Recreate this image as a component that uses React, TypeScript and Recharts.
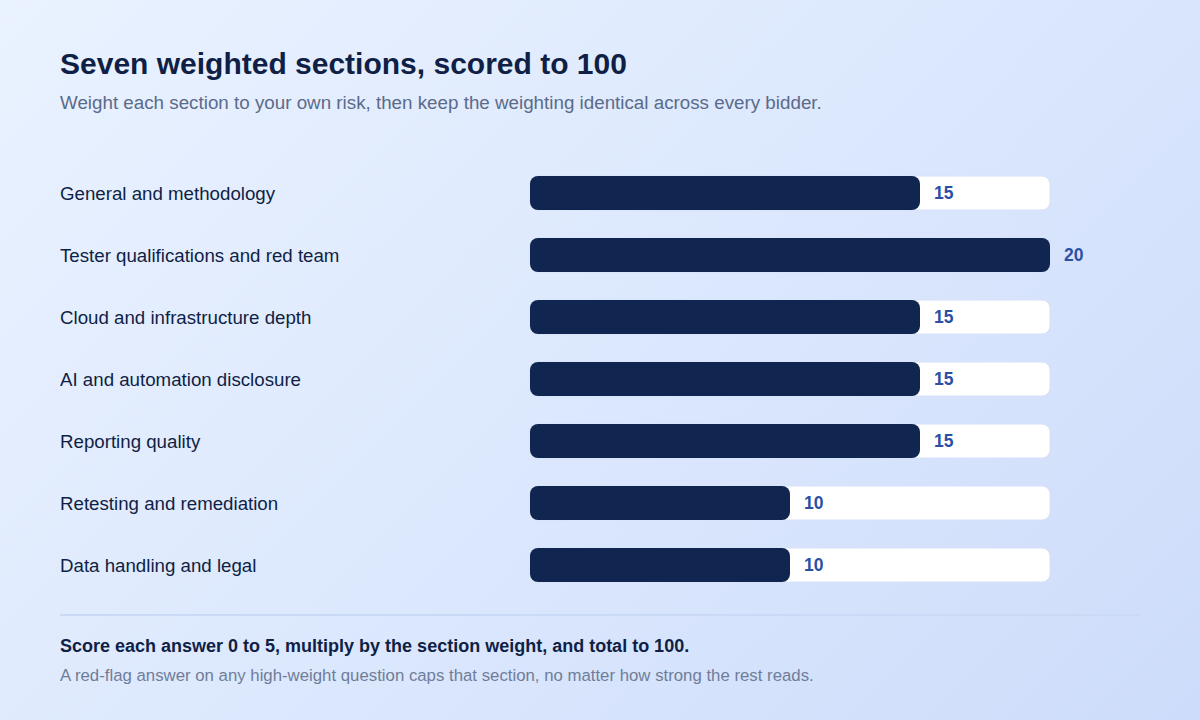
import { BarChart, Bar, XAxis, YAxis, LabelList } from 'recharts';

const sections = [
  'General and methodology',
  'Tester qualifications and red team',
  'Cloud and infrastructure depth',
  'AI and automation disclosure',
  'Reporting quality',
  'Retesting and remediation',
  'Data handling and legal',
];
const weights = [15, 20, 15, 15, 15, 10, 10];
const maxWeight = 20;

const data = sections.map((name, i) => ({ name, weight: weights[i] }));

const font = '"Liberation Sans", Arial, Helvetica, sans-serif';

const CategoryTick = (props: any) => {
  const { y, payload } = props;
  return (
    <text x={60} y={y} dy={6.5} textAnchor="start" fill="#0f1f45" fontSize={18.7} fontFamily={font}>
      {payload.value}
    </text>
  );
};

const ValueLabel = (props: any) => {
  const { x, y, width, height, value } = props;
  return (
    <text
      x={x + width + 14}
      y={y + height / 2}
      dy={6}
      fill="#2b50a3"
      fontSize={17.5}
      fontWeight="bold"
      fontFamily={font}
    >
      {value}
    </text>
  );
};

const App = () => {
  return (
    <div
      style={{
        position: 'absolute',
        left: 0,
        top: 0,
        width: 1200,
        height: 720,
        background: 'linear-gradient(135deg, #eaf2ff 0%, #dce8fd 50%, #cddcfa 100%)',
        fontFamily: font,
        overflow: 'hidden',
        lineHeight: 1.15,
      }}
    >
      <div style={{ position: 'absolute', left: 60, top: 47, fontSize: 30, fontWeight: 'bold', color: '#0f1f45' }}>
        Seven weighted sections, scored to 100
      </div>
      <div style={{ position: 'absolute', left: 60, top: 92, fontSize: 18.8, color: '#5b6b8a' }}>
        Weight each section to your own risk, then keep the weighting identical across every bidder.
      </div>

      <div style={{ position: 'absolute', left: 0, top: 162 }}>
        <BarChart
          width={1200}
          height={434}
          data={data}
          layout="vertical"
          margin={{ top: 0, right: 150, bottom: 0, left: 60 }}
          barSize={34}
        >
          <XAxis type="number" domain={[0, maxWeight]} hide />
          <YAxis
            type="category"
            dataKey="name"
            width={470}
            axisLine={false}
            tickLine={false}
            tick={<CategoryTick />}
          />
          <Bar
            dataKey="weight"
            fill="#10254f"
            radius={8}
            background={{ fill: '#ffffff', radius: 8, stroke: '#d6e2f8', strokeWidth: 1 }}
            isAnimationActive={false}
          >
            <LabelList dataKey="weight" content={<ValueLabel />} />
          </Bar>
        </BarChart>
      </div>

      <div style={{ position: 'absolute', left: 60, top: 614, width: 1080, height: 2, background: '#c9d9f6' }} />
      <div style={{ position: 'absolute', left: 60, top: 636, fontSize: 18, fontWeight: 'bold', color: '#0f1f45' }}>
        Score each answer 0 to 5, multiply by the section weight, and total to 100.
      </div>
      <div style={{ position: 'absolute', left: 60, top: 666, fontSize: 16.8, color: '#6f7d99' }}>
        A red-flag answer on any high-weight question caps that section, no matter how strong the rest reads.
      </div>
    </div>
  );
};

export default App;
